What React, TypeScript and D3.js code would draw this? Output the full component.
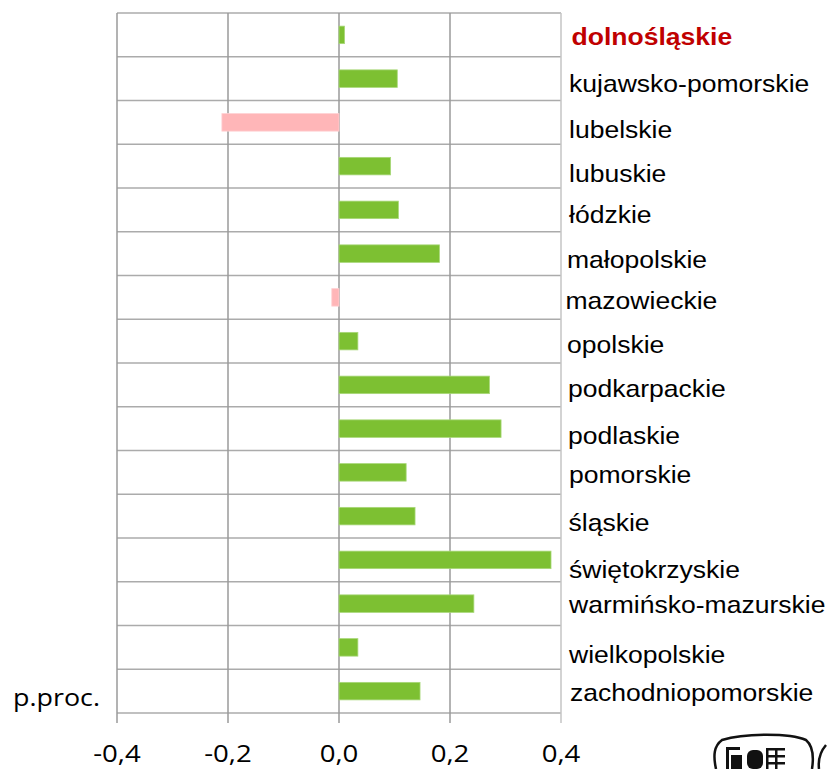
import React from "react";
import * as d3 from "d3";

const categories = [
  "dolnośląskie",
  "kujawsko-pomorskie",
  "lubelskie",
  "lubuskie",
  "łódzkie",
  "małopolskie",
  "mazowieckie",
  "opolskie",
  "podkarpackie",
  "podlaskie",
  "pomorskie",
  "śląskie",
  "świętokrzyskie",
  "warmińsko-mazurskie",
  "wielkopolskie",
  "zachodniopomorskie",
];
const values = [
  0.01, 0.105, -0.211, 0.093, 0.107, 0.181, -0.013, 0.034,
  0.271, 0.292, 0.121, 0.137, 0.382, 0.243, 0.034, 0.146,
];
const xTicks = [-0.4, -0.2, 0.0, 0.2, 0.4];
const unitLabel = "p.proc.";
const highlighted = "dolnośląskie";

// layout tweaks for category labels (baseline offsets from row centre)
const labelDy = [10, 13.5, 16, 16, 13, 14.5, 12, 12, 12, 15, 11, 14.5, 18, 9, 15.5, 10];
const labelDx = [2.5, 0, 0, 0, 0, -2, -3.5, -2, -1, -1, 0, -0.5, 0, 0, 0, 1];

export default function App() {
  const W = 830;
  const H = 769;
  const x = d3.scaleLinear().domain([-0.4, 0.4]).range([117, 561]);
  const y = d3.scaleBand<string>().domain(categories).range([13, 713]).paddingInner(0).paddingOuter(0);
  const bw = y.bandwidth() * 0.4;
  const fmt = (v: number) => d3.format(".1f")(v).replace(".", ",").replace("−", "-");

  return (
    <svg width={W} height={H} style={{ position: "absolute", left: 0, top: 0 }}>
      <rect x={0} y={0} width={W} height={H} fill="#fff" />
      {/* horizontal row separators */}
      {categories.map((c, i) => (
        <line key={"h" + i} x1={117} x2={561} y1={y(c)!} y2={y(c)!} stroke="#ababab" strokeWidth={1.5} />
      ))}
      <line x1={117} x2={561} y1={713} y2={713} stroke="#ababab" strokeWidth={1.5} />
      {/* vertical gridlines */}
      {xTicks.map((t, i) => (
        <line
          key={"v" + i}
          x1={x(t)}
          x2={x(t)}
          y1={13}
          y2={723}
          stroke={i === xTicks.length - 1 ? "#c4c4c4" : "#9a9a9a"}
          strokeWidth={1.5}
        />
      ))}
      {/* bars */}
      {categories.map((c, i) => {
        const v = values[i];
        const x0 = x(Math.min(0, v));
        const x1 = x(Math.max(0, v));
        const yc = y(c)! + y.bandwidth() / 2;
        return (
          <rect
            key={"b" + i}
            x={x0}
            y={yc - bw / 2}
            width={x1 - x0}
            height={bw}
            fill={v >= 0 ? "#7dc032" : "#ffb6b8"}
            stroke={v >= 0 ? "#a8d878" : "#ffd0d2"}
            strokeWidth={0.8}
          />
        );
      })}
      {/* category labels */}
      {categories.map((c, i) => {
        const yc = y(c)! + y.bandwidth() / 2;
        const isH = c === highlighted;
        return (
          <text
            key={"l" + i}
            transform={`translate(${569 + labelDx[i]},${yc + labelDy[i]}) scale(1.07,1)`}
            fontFamily="'Liberation Sans', Arial, sans-serif"
            fontSize={24.8}
            fontWeight={isH ? "bold" : "normal"}
            fill={isH ? "#c00000" : "#000"}
          >
            {c}
          </text>
        );
      })}
      {/* x tick labels */}
      {xTicks.map((t, i) => (
        <text
          key={"t" + i}
          transform={`translate(${x(t)},762) scale(1.15,1)`}
          textAnchor="middle"
          fontFamily="'Open Sans', sans-serif"
          fontSize={24}
          fill="#000"
        >
          {fmt(t)}
        </text>
      ))}
      {/* unit label */}
      <text
        transform={`translate(13,706) scale(1.12,1)`}
        fontFamily="'Open Sans', sans-serif"
        fontSize={24}
        fill="#000"
      >
        {unitLabel}
      </text>
      {/* logo (partially visible) */}
      <g fill="none" stroke="#111" strokeWidth={2.5}>
        <path d="M716,769 C713,755 714,746 722,740 C745,733 790,733 806,740 C813,746 814,756 812,769" />
        <path d="M826,745 C820,752 818,760 819,769" />
      </g>
      <g fill="#111">
        <rect x={726} y={747} width={3} height={22} />
        <rect x={726} y={747} width={14} height={3} />
        <rect x={731} y={755} width={11} height={14} />
        <rect x={747} y={750} width={16} height={19} rx={6} />
        <rect x={766} y={748} width={2.5} height={21} />
        <rect x={766} y={748} width={19} height={2.5} />
        <rect x={766} y={755} width={19} height={2.5} />
        <rect x={766} y={762} width={19} height={2.5} />
        <rect x={775} y={748} width={2.5} height={21} />
      </g>
    </svg>
  );
}
